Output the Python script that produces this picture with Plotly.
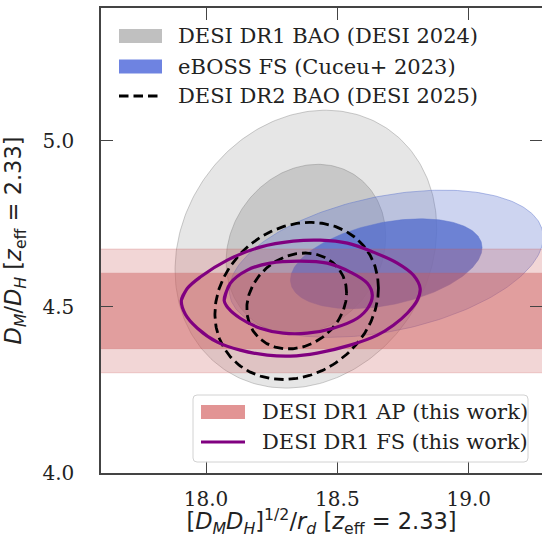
import numpy as np
import plotly.graph_objects as go

# ---------------- data ----------------
x_ticks = [18.0, 18.5, 19.0]
y_ticks = [4.0, 4.5, 5.0]
x_range = [17.6, 19.279]
y_range = [4.0, 5.4]

# contour radii (sqrt of delta chi^2) for 68% / 95% 2D contours
levels = [1.52, 2.49]

# DESI DR1 BAO (DESI 2024): centre, sigmas, correlation
bao_dr1_center = [18.38, 4.674]
bao_dr1_sigma = [0.200, 0.168]
bao_dr1_rho = 0.15

# eBOSS FS (Cuceu+ 2023)
eboss_center = [18.686, 4.630]
eboss_sigma = [0.240, 0.089]
eboss_rho = 0.36

# DESI DR2 BAO (DESI 2025)
bao_dr2_center = [18.345, 4.518]
bao_dr2_sigma = [0.125, 0.095]
bao_dr2_rho = 0.165

# DESI DR1 AP (this work): D_M/D_H band
ap_center = 4.488
ap_sigma = 0.0748

# DESI DR1 FS (this work): contours
fs_outer_x = [17.906, 17.929, 17.978, 18.081, 18.206, 18.332, 18.435, 18.538, 18.637,
              18.728, 18.789, 18.815, 18.804, 18.766, 18.713, 18.652, 18.549, 18.423,
              18.321, 18.233, 18.130, 18.043, 17.967, 17.921]
fs_outer_y = [4.520, 4.556, 4.590, 4.641, 4.680, 4.698, 4.701, 4.692, 4.665,
              4.632, 4.596, 4.556, 4.520, 4.481, 4.445, 4.415, 4.385, 4.361,
              4.352, 4.355, 4.370, 4.394, 4.436, 4.478]
fs_inner_x = [18.069, 18.092, 18.157, 18.244, 18.359, 18.461, 18.549, 18.614, 18.633,
              18.618, 18.576, 18.484, 18.385, 18.294, 18.206, 18.130, 18.085]
fs_inner_y = [4.520, 4.571, 4.611, 4.632, 4.638, 4.632, 4.605, 4.571, 4.535,
              4.499, 4.466, 4.436, 4.421, 4.421, 4.436, 4.466, 4.496]

legend_top = ["DESI DR1 BAO (DESI 2024)", "eBOSS FS (Cuceu+ 2023)", "DESI DR2 BAO (DESI 2025)"]
legend_bottom = ["DESI DR1 AP (this work)", "DESI DR1 FS (this work)"]

# ---------------- styles ----------------
GRAY = "128,128,128"
BLUE = "88,112,205"
RED = "205,92,92"
PURPLE = "#800080"
SERIF = "DejaVu Serif"
SANS = "DejaVu Sans"
FS = 21        # legend text
FS_TICK = 20   # tick labels
FS_TITLE = 22.5  # axis titles
W, H = 542, 538
ML, MR, MT, MB = 101, 0, 8, 65
PW, PH = W - ML - MR, H - MT - MB


def ellipse(c, s, rho, k, n=241):
    t = np.linspace(0, 2 * np.pi, n)
    cov = np.array([[s[0] ** 2, rho * s[0] * s[1]], [rho * s[0] * s[1], s[1] ** 2]])
    L = np.linalg.cholesky(cov)
    p = k * (L @ np.vstack([np.cos(t), np.sin(t)]))
    return c[0] + p[0], c[1] + p[1]


fig = go.Figure()


def add_filled(c, s, rho, rgb, a_out, a_in, edge_alpha):
    for k, a in ((levels[1], a_out), (levels[0], a_in)):
        ex, ey = ellipse(c, s, rho, k)
        fig.add_trace(go.Scatter(x=ex, y=ey, mode="lines", fill="toself",
                                 fillcolor=f"rgba({rgb},{a})",
                                 line=dict(color=f"rgba({rgb},{edge_alpha})", width=1),
                                 hoverinfo="skip", showlegend=False))


add_filled(bao_dr1_center, bao_dr1_sigma, bao_dr1_rho, GRAY, 0.2, 0.29, 0.4)
add_filled(eboss_center, eboss_sigma, eboss_rho, BLUE, 0.3, 0.82, 0.45)

# AP bands
bx = [x_range[0] - 1, x_range[1] + 1]
for k, a in ((levels[1], 0.25), (levels[0], 0.45)):
    lo, hi = ap_center - k * ap_sigma, ap_center + k * ap_sigma
    fig.add_trace(go.Scatter(x=[bx[0], bx[1], bx[1], bx[0], bx[0]], y=[lo, lo, hi, hi, lo],
                             mode="lines", fill="toself", fillcolor=f"rgba({RED},{a})",
                             line=dict(color=f"rgba({RED},0.25)", width=1),
                             hoverinfo="skip", showlegend=False))

# DR2 dashed contours
for k in levels:
    ex, ey = ellipse(bao_dr2_center, bao_dr2_sigma, bao_dr2_rho, k)
    fig.add_trace(go.Scatter(x=ex, y=ey, mode="lines",
                             line=dict(color="black", width=2.8, dash="9.5px,5px"),
                             hoverinfo="skip", showlegend=False))

# FS contours
for xs, ys in ((fs_outer_x, fs_outer_y), (fs_inner_x, fs_inner_y)):
    fig.add_trace(go.Scatter(x=xs + xs[:2], y=ys + ys[:2], mode="lines",
                             line=dict(color=PURPLE, width=3.2, shape="spline", smoothing=1.0),
                             hoverinfo="skip", showlegend=False))

# invisible trace so the right-hand tick axis is drawn
fig.add_trace(go.Scatter(x=[18.5], y=[4.5], yaxis="y2", mode="markers",
                         marker=dict(opacity=0), hoverinfo="skip", showlegend=False))


# ---------------- manual legends (positions in window pixels) ----------------
def px(xp):
    return (xp - ML) / PW


def py(yp):
    return (MT + PH - yp) / PH


shapes = []
annotations = []
# top legend
top_rows = [36, 66.5, 96]
shapes.append(dict(type="rect", xref="paper", yref="paper", x0=px(119), x1=px(162),
                   y0=py(top_rows[0] + 7), y1=py(top_rows[0] - 7),
                   fillcolor="rgb(192,192,192)", line=dict(width=0), layer="above"))
shapes.append(dict(type="rect", xref="paper", yref="paper", x0=px(119), x1=px(162),
                   y0=py(top_rows[1] + 7), y1=py(top_rows[1] - 7),
                   fillcolor="rgb(110,131,225)", line=dict(width=0), layer="above"))
shapes.append(dict(type="line", xref="paper", yref="paper", x0=px(119), x1=px(162),
                   y0=py(top_rows[2]), y1=py(top_rows[2]),
                   line=dict(color="black", width=2.8, dash="9.5px,5px"), layer="above"))
for r, t in zip(top_rows, legend_top):
    annotations.append(dict(xref="paper", yref="paper", x=px(176), y=py(r), text=t,
                            showarrow=False, xanchor="left", yanchor="middle",
                            font=dict(family=SERIF, size=FS, color="#222")))

# bottom legend frame (rounded)
fx0, fx1, fy0, fy1, rr = 193, 528, 395, 462, 4
path = (f"M {px(fx0 + rr)},{py(fy0)} L {px(fx1 - rr)},{py(fy0)} "
        f"Q {px(fx1)},{py(fy0)} {px(fx1)},{py(fy0 + rr)} L {px(fx1)},{py(fy1 - rr)} "
        f"Q {px(fx1)},{py(fy1)} {px(fx1 - rr)},{py(fy1)} L {px(fx0 + rr)},{py(fy1)} "
        f"Q {px(fx0)},{py(fy1)} {px(fx0)},{py(fy1 - rr)} L {px(fx0)},{py(fy0 + rr)} "
        f"Q {px(fx0)},{py(fy0)} {px(fx0 + rr)},{py(fy0)} Z")
shapes.append(dict(type="path", xref="paper", yref="paper", path=path,
                   fillcolor="rgba(255,255,255,0.85)", line=dict(color="rgb(210,210,210)", width=1),
                   layer="above"))
bot_rows = [412, 442]
shapes.append(dict(type="rect", xref="paper", yref="paper", x0=px(201), x1=px(245),
                   y0=py(bot_rows[0] + 7), y1=py(bot_rows[0] - 7),
                   fillcolor="rgb(226,148,148)", line=dict(width=0), layer="above"))
shapes.append(dict(type="line", xref="paper", yref="paper", x0=px(201), x1=px(245),
                   y0=py(bot_rows[1]), y1=py(bot_rows[1]),
                   line=dict(color=PURPLE, width=3.2), layer="above"))
for r, t in zip(bot_rows, legend_bottom):
    annotations.append(dict(xref="paper", yref="paper", x=px(260), y=py(r), text=t,
                            showarrow=False, xanchor="left", yanchor="middle",
                            font=dict(family=SERIF, size=FS, color="#222")))

axis_common = dict(showgrid=False, zeroline=False, ticks="inside", ticklen=12, tickwidth=1.3,
                   tickcolor="#444", tickfont=dict(family=SERIF, size=FS_TICK, color="#222"))

fig.update_layout(
    width=W, height=H, margin=dict(l=ML, r=MR, t=MT, b=MB, autoexpand=False),
    paper_bgcolor="white", plot_bgcolor="white",
    showlegend=False, shapes=shapes, annotations=annotations,
    xaxis=dict(range=x_range, tickvals=x_ticks, ticktext=[f"{v:.1f}" for v in x_ticks],
               showline=True, linecolor="#444", linewidth=1.5, mirror="ticks",
               ticklabelstandoff=7,
               title=dict(text="[<i>D</i><sub><i>M</i></sub><i>D</i><sub><i>H</i></sub>]"
                               "<sup>1/2</sup>/<i>r</i><sub><i>d</i></sub> "
                               "[<i>z</i><sub>eff</sub> = 2.33]",
                          font=dict(family=SANS, size=FS_TITLE, color="#222"), standoff=16),
               **axis_common),
    yaxis=dict(range=y_range, tickvals=y_ticks, ticktext=[f"{v:.1f}" for v in y_ticks],
               showline=True, linecolor="#444", linewidth=1.5, mirror=False,
               ticklabelstandoff=21,
               title=dict(text="<i>D</i><sub><i>M</i></sub>/<i>D</i><sub><i>H</i></sub> "
                               "[<i>z</i><sub>eff</sub> = 2.33]",
                          font=dict(family=SANS, size=FS_TITLE, color="#222"), standoff=16),
               **axis_common),
    yaxis2=dict(range=y_range, overlaying="y", side="right", matches="y",
                tickvals=y_ticks, showticklabels=False, showline=False, **axis_common),
)

# remove the browser's default 8px body margin so the figure fills the window
fig.write_html("out.html", config={"displayModeBar": False},
               post_script="document.body.style.margin='0';")
